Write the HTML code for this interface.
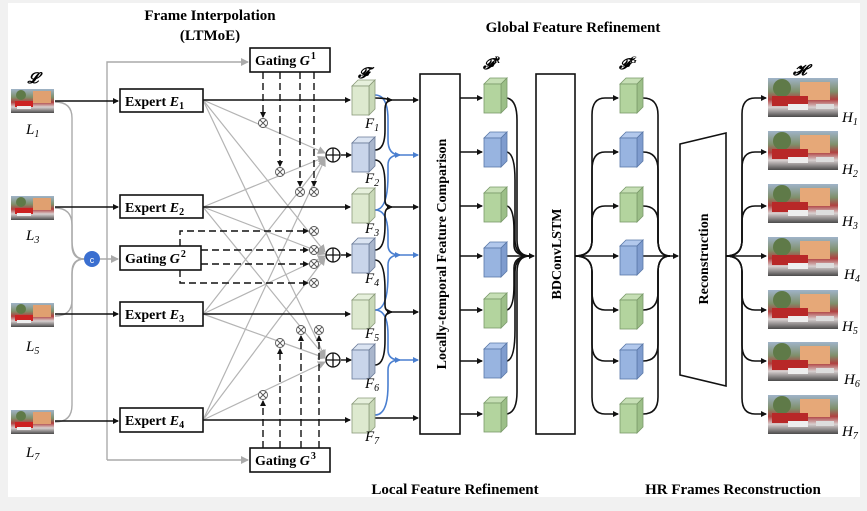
<!DOCTYPE html>
<html><head><meta charset="utf-8"><style>
html,body{margin:0;padding:0;background:#f1f1f1;}
svg{display:block;font-family:"Liberation Serif",serif;}
.t{font-weight:bold;font-size:15px;}
.b{font-weight:bold;font-size:14px;}
.i{font-style:italic;font-size:15px;}
</style></head><body>
<svg width="867" height="511" viewBox="0 0 867 511" xmlns="http://www.w3.org/2000/svg">
<defs>
<marker id="a" markerWidth="6" markerHeight="6" refX="5" refY="3" orient="auto" markerUnits="userSpaceOnUse"><path d="M0,0 L6,3 L0,6z" fill="#111"/></marker>
<marker id="ag" markerWidth="8" markerHeight="8" refX="7" refY="4" orient="auto" markerUnits="userSpaceOnUse"><path d="M0,0 L8,4 L0,8z" fill="#aaa"/></marker>
<marker id="ab" markerWidth="6" markerHeight="6" refX="5" refY="3" orient="auto" markerUnits="userSpaceOnUse"><path d="M0,0 L6,3 L0,6z" fill="#4a7fd0"/></marker>
<linearGradient id="img" x1="0" y1="0" x2="0" y2="1">
<stop offset="0" stop-color="#9fb3c8"/><stop offset="0.35" stop-color="#7f8f6a"/><stop offset="0.55" stop-color="#b04040"/><stop offset="0.75" stop-color="#d8d0d0"/><stop offset="1" stop-color="#4a4a4a"/></linearGradient>
<g id="lr"><rect width="43" height="24" fill="url(#img)"/><rect x="22" y="2" width="18" height="12" fill="#e0a070"/><rect x="4" y="12" width="18" height="6" fill="#c22"/><rect x="6" y="17" width="14" height="3" fill="#eee"/><circle cx="10" cy="6" r="5" fill="#5f7a48"/></g>
<g id="hr"><rect width="70" height="39" fill="url(#img)"/><rect x="32" y="4" width="30" height="18" fill="#e6a878"/><circle cx="14" cy="10" r="9" fill="#5f7a48"/><rect x="4" y="18" width="36" height="10" fill="#b82828"/><rect x="20" y="26" width="20" height="6" fill="#eee"/><rect x="48" y="26" width="18" height="5" fill="#ddd"/></g>
<g id="cg"><polygon points="0,6 6,0 23,0 17,6" fill="#c6dfb5" stroke="#7a9a6a" stroke-width="0.8"/><polygon points="17,6 23,0 23,29 17,35" fill="#9cbf88" stroke="#7a9a6a" stroke-width="0.8"/><rect x="0" y="6" width="17" height="29" fill="#b3d49e" stroke="#7a9a6a" stroke-width="0.8"/></g>
<g id="cb"><polygon points="0,6 6,0 23,0 17,6" fill="#b2c8ec" stroke="#5a78a8" stroke-width="0.8"/><polygon points="17,6 23,0 23,29 17,35" fill="#7f9cce" stroke="#5a78a8" stroke-width="0.8"/><rect x="0" y="6" width="17" height="29" fill="#98b4e0" stroke="#5a78a8" stroke-width="0.8"/></g>
<g id="cgl"><polygon points="0,6 6,0 23,0 17,6" fill="#e6f0dc" stroke="#8a9a7a" stroke-width="0.8"/><polygon points="17,6 23,0 23,29 17,35" fill="#c9d9b8" stroke="#8a9a7a" stroke-width="0.8"/><rect x="0" y="6" width="17" height="29" fill="#dde9cf" stroke="#8a9a7a" stroke-width="0.8"/></g>
<g id="cbl"><polygon points="0,6 6,0 23,0 17,6" fill="#dbe4f2" stroke="#6a7a98" stroke-width="0.8"/><polygon points="17,6 23,0 23,29 17,35" fill="#a9b6cc" stroke="#6a7a98" stroke-width="0.8"/><rect x="0" y="6" width="17" height="29" fill="#c9d5ea" stroke="#6a7a98" stroke-width="0.8"/></g>
<g id="ot"><circle r="4.5" fill="#fff" stroke="#555" stroke-width="0.9"/><path d="M-3,-3 L3,3 M-3,3 L3,-3" stroke="#555" stroke-width="0.9"/></g>
<g id="op"><circle r="7" fill="#fff" stroke="#111" stroke-width="1.3"/><path d="M-7,0 H7 M0,-7 V7" stroke="#111" stroke-width="1.3"/></g>
</defs>
<rect x="8" y="3" width="852" height="494" fill="#fff"/>

<text class="t" x="210" y="20" text-anchor="middle">Frame Interpolation</text>
<text class="t" x="210" y="40" text-anchor="middle">(LTMoE)</text>
<text class="t" x="573" y="32" text-anchor="middle">Global Feature Refinement</text>
<text class="t" x="455" y="494" text-anchor="middle">Local Feature Refinement</text>
<text class="t" x="733" y="494" text-anchor="middle">HR Frames Reconstruction</text>

<g fill="none" stroke="#aaa" stroke-width="1.4">
<path d="M55,102 Q72,102 72,118 V240 Q72,259 84,259"/>
<path d="M55,208 Q72,208 72,225 V245 Q72,259 84,259"/>
<path d="M55,316 Q72,316 72,300 V272 Q72,259 84,259"/>
<path d="M55,422 Q72,422 72,405 V275 Q72,259 84,259"/>
<path d="M107,460 V62 H248" marker-end="url(#ag)"/>
<path d="M107,460 H248" marker-end="url(#ag)"/>
<path d="M100,259 H118" marker-end="url(#ag)"/>
</g>
<circle cx="92" cy="259" r="8" fill="#3a6fd0"/><text x="92" y="263" font-size="9" fill="#fff" text-anchor="middle" font-family="Liberation Sans">c</text>

<use href="#lr" x="11" y="89"/><use href="#lr" x="11" y="196"/><use href="#lr" x="11" y="303"/><use href="#lr" x="11" y="410"/>
<text x="33" y="83" class="i" font-weight="bold" text-anchor="middle">𝓛</text>
<text x="26" y="134" class="i">L<tspan font-size="10" dy="3">1</tspan></text>
<text x="26" y="240" class="i">L<tspan font-size="10" dy="3">3</tspan></text>
<text x="26" y="351" class="i">L<tspan font-size="10" dy="3">5</tspan></text>
<text x="26" y="457" class="i">L<tspan font-size="10" dy="3">7</tspan></text>

<g stroke="#b4b4b4" stroke-width="1.2" fill="none" marker-end="url(#ag)">
<path d="M203,100 L325,153"/><path d="M203,100 L325,252"/><path d="M203,100 L325,357"/>
<path d="M203,207 L325,157"/><path d="M203,207 L325,254"/><path d="M203,207 L325,357"/>
<path d="M203,314 L325,158"/><path d="M203,314 L325,256"/><path d="M203,314 L325,358"/>
<path d="M203,420 L325,159"/><path d="M203,420 L325,258"/><path d="M203,420 L325,362"/>
</g>

<g stroke="#111" stroke-width="1.4" fill="none" marker-end="url(#a)">
<path d="M55,101 H118"/><path d="M55,207 H118"/><path d="M55,314 H118"/><path d="M55,421 H118"/>
<path d="M203,100 H350"/><path d="M203,207 H350"/><path d="M203,314 H350"/><path d="M203,420 H350"/>
<path d="M341,155 H351"/><path d="M341,255 H351"/><path d="M341,360 H351"/>
</g>

<g stroke="#111" stroke-width="1.4" fill="none" stroke-dasharray="7,4">
<path d="M263,72 V117" marker-end="url(#a)"/><path d="M280,72 V166" marker-end="url(#a)"/><path d="M300,72 V186" marker-end="url(#a)"/><path d="M314,72 V186" marker-end="url(#a)"/>
<path d="M263,448 V401" marker-end="url(#a)"/><path d="M280,448 V349" marker-end="url(#a)"/><path d="M301,448 V336" marker-end="url(#a)"/><path d="M319,448 V336" marker-end="url(#a)"/>
<path d="M180,246 V231 H308" marker-end="url(#a)"/><path d="M201,250 H308" marker-end="url(#a)"/><path d="M201,264 H308" marker-end="url(#a)"/><path d="M180,270 V283 H308" marker-end="url(#a)"/>
</g>
<use href="#ot" x="263" y="123"/><use href="#ot" x="280" y="172"/><use href="#ot" x="300" y="192"/><use href="#ot" x="314" y="192"/>
<use href="#ot" x="314" y="231"/><use href="#ot" x="314" y="250"/><use href="#ot" x="314" y="264"/><use href="#ot" x="314" y="283"/>
<use href="#ot" x="280" y="343"/><use href="#ot" x="301" y="330"/><use href="#ot" x="319" y="330"/><use href="#ot" x="263" y="395"/>
<use href="#op" x="333" y="155"/><use href="#op" x="333" y="255"/><use href="#op" x="333" y="360"/>

<g fill="#fff" stroke="#111" stroke-width="1.6">
<rect x="120" y="89" width="83" height="23"/><rect x="120" y="195" width="83" height="23"/><rect x="120" y="302" width="83" height="24"/><rect x="120" y="408" width="83" height="24"/>
<rect x="120" y="246" width="81" height="24"/><rect x="250" y="48" width="80" height="24"/><rect x="250" y="448" width="80" height="24"/>
</g>
<g class="b">
<text x="125" y="106">Expert <tspan font-style="italic">E</tspan><tspan font-size="10" dy="3">1</tspan></text>
<text x="125" y="212">Expert <tspan font-style="italic">E</tspan><tspan font-size="10" dy="3">2</tspan></text>
<text x="125" y="319">Expert <tspan font-style="italic">E</tspan><tspan font-size="10" dy="3">3</tspan></text>
<text x="125" y="425">Expert <tspan font-style="italic">E</tspan><tspan font-size="10" dy="3">4</tspan></text>
<text x="125" y="263">Gating <tspan font-style="italic">G</tspan><tspan font-size="10" dx="1" dy="-6">2</tspan></text>
<text x="255" y="65">Gating <tspan font-style="italic">G</tspan><tspan font-size="10" dx="1" dy="-6">1</tspan></text>
<text x="255" y="465">Gating <tspan font-style="italic">G</tspan><tspan font-size="10" dx="1" dy="-6">3</tspan></text>
</g>

<g fill="none" stroke-width="1.6">
<g stroke="#4a7fd0" marker-end="url(#ab)">
<path d="M375,95 Q388,95 388,120 V140 Q388,155 400,155 H418"/><path d="M375,210 Q388,210 388,175 V165 Q388,155 400,155"/>
<path d="M375,210 Q388,210 388,235 V245 Q388,255 400,255 H418"/><path d="M375,310 Q388,310 388,275 V265 Q388,255 400,255"/>
<path d="M375,310 Q388,310 388,335 V350 Q388,360 400,360 H418"/><path d="M375,415 Q388,415 388,385 V370 Q388,360 400,360"/>
</g>
<g stroke="#111" marker-end="url(#a)">
<path d="M375,98 Q385,98 390,100 H418"/><path d="M375,150 Q385,150 385,130 V110 Q385,100 392,100"/>
<path d="M375,160 Q385,160 385,185 V200 Q385,207 392,207 H418"/><path d="M375,250 Q385,250 385,225 V215 Q385,207 392,207"/>
<path d="M375,260 Q385,260 385,290 V305 Q385,312 392,312 H418"/><path d="M375,365 Q385,365 385,340 V320 Q385,312 392,312"/>
<path d="M375,418 Q385,418 392,418 H418"/>
</g>
</g>

<use href="#cgl" x="352" y="80"/><use href="#cbl" x="352" y="137"/><use href="#cgl" x="352" y="188"/><use href="#cbl" x="352" y="238"/><use href="#cgl" x="352" y="294"/><use href="#cbl" x="352" y="344"/><use href="#cgl" x="352" y="398"/>
<text x="358" y="78" class="i" font-weight="bold">𝓕</text>
<g class="i">
<text x="365" y="128">F<tspan font-size="10" dy="3">1</tspan></text>
<text x="365" y="183">F<tspan font-size="10" dy="3">2</tspan></text>
<text x="365" y="233">F<tspan font-size="10" dy="3">3</tspan></text>
<text x="365" y="283">F<tspan font-size="10" dy="3">4</tspan></text>
<text x="365" y="338">F<tspan font-size="10" dy="3">5</tspan></text>
<text x="365" y="388">F<tspan font-size="10" dy="3">6</tspan></text>
<text x="365" y="441">F<tspan font-size="10" dy="3">7</tspan></text>
</g>

<rect x="420" y="74" width="40" height="360" fill="#fff" stroke="#111" stroke-width="1.6"/>
<text class="b" font-size="15" transform="translate(446,254) rotate(-90)" text-anchor="middle">Locally-temporal Feature Comparison</text>

<g stroke="#111" stroke-width="1.6" fill="none" marker-end="url(#a)">
<path d="M460,98 H482"/><path d="M460,152 H482"/><path d="M460,206 H482"/><path d="M460,256 H482"/><path d="M460,310 H482"/><path d="M460,361 H482"/><path d="M460,414 H482"/>
</g>
<g stroke="#111" stroke-width="1.6" fill="none">
<path d="M507,98 Q517,100 517,120 V240 Q517,256 530,256"/>
<path d="M507,152 Q515,154 515,180 V240 Q515,256 530,256"/>
<path d="M507,206 Q514,208 514,230 V245 Q514,256 530,256"/>
<path d="M507,414 Q517,412 517,392 V272 Q517,256 530,256"/>
<path d="M507,361 Q515,359 515,330 V272 Q515,256 530,256"/>
<path d="M507,310 Q514,308 514,285 V268 Q514,256 530,256"/>
<path d="M507,256 H534" marker-end="url(#a)"/>
</g>
<use href="#cg" x="484" y="78"/><use href="#cb" x="484" y="132"/><use href="#cg" x="484" y="187"/><use href="#cb" x="484" y="242"/><use href="#cg" x="484" y="293"/><use href="#cb" x="484" y="343"/><use href="#cg" x="484" y="397"/>
<text x="483" y="69" class="i" font-weight="bold">𝓕<tspan font-size="9" dy="-6">R</tspan></text>

<rect x="536" y="74" width="39" height="360" fill="#fff" stroke="#111" stroke-width="1.6"/>
<text class="b" font-size="15" transform="translate(561,254) rotate(-90)" text-anchor="middle">BDConvLSTM</text>

<g stroke="#111" stroke-width="1.6" fill="none">
<g marker-end="url(#a)">
<path d="M575,256 Q592,256 592,240 V115 Q592,98 605,98 H618"/>
<path d="M575,256 Q592,256 592,240 V170 Q592,152 605,152 H618"/>
<path d="M575,256 Q592,256 592,240 V222 Q592,206 605,206 H618"/>
<path d="M575,256 H618"/>
<path d="M575,256 Q592,256 592,272 V292 Q592,310 605,310 H618"/>
<path d="M575,256 Q592,256 592,272 V344 Q592,361 605,361 H618"/>
<path d="M575,256 Q592,256 592,272 V397 Q592,414 605,414 H618"/>
<path d="M643,256 H678"/>
</g>
<path d="M643,98 Q658,98 658,115 V240 Q658,256 670,256"/>
<path d="M643,152 Q658,152 658,170 V240 Q658,256 670,256"/>
<path d="M643,206 Q658,206 658,222 V240 Q658,256 670,256"/>
<path d="M643,310 Q658,310 658,292 V272 Q658,256 670,256"/>
<path d="M643,361 Q658,361 658,344 V272 Q658,256 670,256"/>
<path d="M643,414 Q658,414 658,397 V272 Q658,256 670,256"/>
</g>
<use href="#cg" x="620" y="78"/><use href="#cb" x="620" y="132"/><use href="#cg" x="620" y="187"/><use href="#cb" x="620" y="240"/><use href="#cg" x="620" y="294"/><use href="#cb" x="620" y="344"/><use href="#cg" x="620" y="398"/>
<text x="619" y="69" class="i" font-weight="bold">𝓕<tspan font-size="9" dy="-6">G</tspan></text>

<polygon points="680,144 726,133 726,386 680,375" fill="#fff" stroke="#111" stroke-width="1.6"/>
<text class="b" font-size="15" transform="translate(708,259) rotate(-90)" text-anchor="middle">Reconstruction</text>

<g stroke="#111" stroke-width="1.6" fill="none" marker-end="url(#a)">
<path d="M726,256 Q742,256 742,240 V114 Q742,98 755,98 H766"/>
<path d="M726,256 Q742,256 742,240 V168 Q742,152 755,152 H766"/>
<path d="M726,256 Q742,256 742,240 V222 Q742,206 755,206 H766"/>
<path d="M726,256 H766"/>
<path d="M726,256 Q742,256 742,272 V294 Q742,310 755,310 H766"/>
<path d="M726,256 Q742,256 742,272 V345 Q742,361 755,361 H766"/>
<path d="M726,256 Q742,256 742,272 V398 Q742,414 755,414 H766"/>
</g>
<use href="#hr" x="768" y="78"/><use href="#hr" x="768" y="131"/><use href="#hr" x="768" y="184"/><use href="#hr" x="768" y="237"/><use href="#hr" x="768" y="290"/><use href="#hr" x="768" y="342"/><use href="#hr" x="768" y="395"/>
<text x="793" y="75" class="i" font-weight="bold">𝓗</text>
<g class="i">
<text x="842" y="122">H<tspan font-size="10" dy="3">1</tspan></text>
<text x="842" y="174">H<tspan font-size="10" dy="3">2</tspan></text>
<text x="842" y="226">H<tspan font-size="10" dy="3">3</tspan></text>
<text x="844" y="279">H<tspan font-size="10" dy="3">4</tspan></text>
<text x="842" y="331">H<tspan font-size="10" dy="3">5</tspan></text>
<text x="844" y="384">H<tspan font-size="10" dy="3">6</tspan></text>
<text x="842" y="436">H<tspan font-size="10" dy="3">7</tspan></text>
</g>
</svg>
</body></html>
